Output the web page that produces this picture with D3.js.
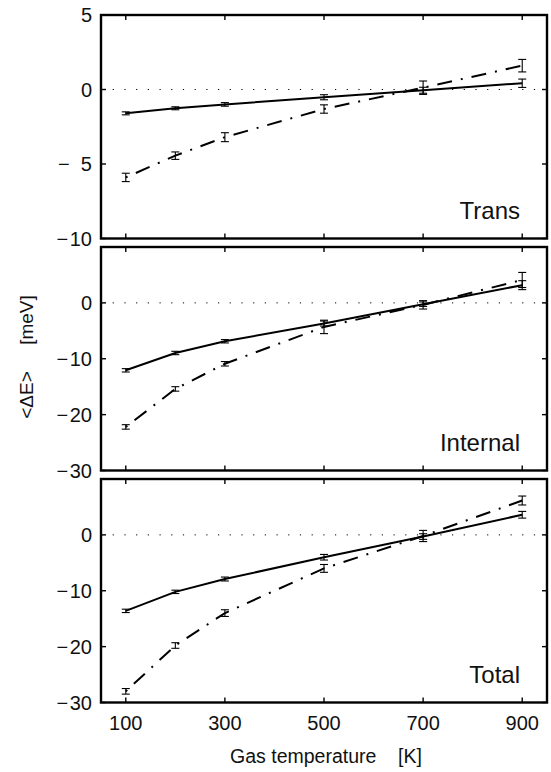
<!DOCTYPE html>
<html>
<head>
<meta charset="utf-8">
<script src="https://cdn.jsdelivr.net/npm/d3@7"></script>
<style>
  html, body { margin: 0; padding: 0; background: #fff; }
  svg { display: block; }
  text { font-family: "Liberation Sans", Arial, Helvetica, sans-serif; fill: #111; }
</style>
</head>
<body>
<svg id="chart" width="551" height="772"></svg>
<script>
// Gas temperatures (K) shared by all three panels
const temps = [100, 200, 300, 500, 700, 900];
const xTicks = [100, 300, 500, 700, 900];

// Translational energy change (meV)
const transSolid = [-1.6, -1.26, -1.0, -0.52, -0.05, 0.42];
const transSolidErr = [0.1, 0.1, 0.12, 0.17, 0.2, 0.28];
const transDashDot = [-5.9, -4.44, -3.2, -1.31, 0.12, 1.6];
const transDashDotErr = [0.28, 0.25, 0.3, 0.28, 0.45, 0.42];

// Internal energy change (meV)
const internalSolid = [-12.07, -8.97, -6.87, -3.7, -0.23, 3.17];
const internalSolidErr = [0.3, 0.3, 0.3, 0.45, 0.4, 0.8];
const internalDashDot = [-22.2, -15.4, -10.9, -4.3, -0.35, 4.1];
const internalDashDotErr = [0.4, 0.4, 0.4, 1.2, 0.75, 1.35];

// Total energy change (meV)
const totalSolid = [-13.6, -10.2, -7.9, -4.0, -0.3, 3.6];
const totalSolidErr = [0.3, 0.3, 0.35, 0.5, 0.5, 0.6];
const totalDashDot = [-28.0, -19.8, -14.0, -6.0, -0.2, 6.15];
const totalDashDotErr = [0.5, 0.5, 0.6, 0.7, 1.0, 0.8];

// Panel titles and y axes
const panelNames = ["Trans", "Internal", "Total"];
const yDomains = [[-10, 5], [-30, 10], [-30, 10]];
const yTickSets = [[-10, -5, 0, 5], [-30, -20, -10, 0, 10], [-30, -20, -10, 0, 10]];
const yLabelSets = [[-10, -5, 0, 5], [-30, -20, -10, 0], [-30, -20, -10, 0]];

const panels = [
  { name: panelNames[0], dom: yDomains[0], ticks: yTickSets[0], labels: yLabelSets[0],
    series: [[transSolid, transSolidErr, "solid"], [transDashDot, transDashDotErr, "dashdot"]] },
  { name: panelNames[1], dom: yDomains[1], ticks: yTickSets[1], labels: yLabelSets[1],
    series: [[internalSolid, internalSolidErr, "solid"], [internalDashDot, internalDashDotErr, "dashdot"]] },
  { name: panelNames[2], dom: yDomains[2], ticks: yTickSets[2], labels: yLabelSets[2],
    series: [[totalSolid, totalSolidErr, "solid"], [totalDashDot, totalDashDotErr, "dashdot"]] }
];

const svg = d3.select("#chart");
const left = 101, right = 547;
const panelTops = [15, 247, 479];
const panelH = 223.5;
const tickLen = 5;

const x = d3.scaleLinear().domain([50, 950]).range([left, right]);

function fmt(v) {
  if (v < 0) {
    const a = Math.abs(v);
    return "\u2212" + (a < 10 ? "\u2007" : "\u200A") + a;
  }
  return String(v);
}

panels.forEach((p, i) => {
  const top = panelTops[i], bottom = top + panelH;
  const y = d3.scaleLinear().domain(p.dom).range([bottom, top]);
  const g = svg.append("g");

  // dotted zero line
  g.append("line")
    .attr("x1", left).attr("x2", right)
    .attr("y1", y(0)).attr("y2", y(0))
    .attr("stroke", "#000").attr("stroke-width", 1)
    .attr("stroke-dasharray", "1.2 10.5");

  // data lines
  p.series.forEach(([vals, errs, style]) => {
    const pts = temps.map((t, k) => [t, vals[k]]);
    const line = d3.line().x(d => x(d[0])).y(d => y(d[1]));
    g.append("path")
      .datum(pts)
      .attr("d", line)
      .attr("fill", "none")
      .attr("stroke", "#000")
      .attr("stroke-width", 2)
      .attr("stroke-dasharray", style === "dashdot" ? "15 9 2 9" : null)
      .attr("stroke-dashoffset", style === "dashdot" ? 24 : null);

    // error bars
    const eb = g.append("g").attr("stroke", "#000").attr("stroke-width", 1.1).attr("fill", "none");
    temps.forEach((t, k) => {
      const cx = x(t), y1 = y(vals[k] + errs[k]), y2 = y(vals[k] - errs[k]);
      eb.append("line").attr("x1", cx).attr("x2", cx).attr("y1", y1).attr("y2", y2);
      eb.append("line").attr("x1", cx - 4).attr("x2", cx + 4).attr("y1", y1).attr("y2", y1);
      eb.append("line").attr("x1", cx - 4).attr("x2", cx + 4).attr("y1", y2).attr("y2", y2);
    });
  });

  // inward ticks on all four sides
  const tk = g.append("g").attr("stroke", "#000").attr("stroke-width", 1.4);
  xTicks.forEach(t => {
    tk.append("line").attr("x1", x(t)).attr("x2", x(t)).attr("y1", top).attr("y2", top + tickLen);
    tk.append("line").attr("x1", x(t)).attr("x2", x(t)).attr("y1", bottom).attr("y2", bottom - tickLen);
  });
  p.ticks.forEach(v => {
    tk.append("line").attr("x1", left).attr("x2", left + tickLen).attr("y1", y(v)).attr("y2", y(v));
    tk.append("line").attr("x1", right).attr("x2", right - tickLen).attr("y1", y(v)).attr("y2", y(v));
  });

  // y tick labels
  g.selectAll("text.ylab")
    .data(p.labels)
    .enter().append("text")
    .attr("class", "ylab")
    .attr("x", left - 9)
    .attr("y", d => y(d))
    .attr("dy", "0.36em")
    .attr("text-anchor", "end")
    .attr("font-size", 20)
    .text(fmt);

  // frame
  g.append("rect")
    .attr("x", left).attr("y", top)
    .attr("width", right - left).attr("height", panelH)
    .attr("fill", "none").attr("stroke", "#000").attr("stroke-width", 2.4);

  // panel title
  g.append("text")
    .attr("x", 520).attr("y", bottom - 20)
    .attr("text-anchor", "end")
    .attr("font-size", 24)
    .text(p.name);

  // x tick labels on the bottom panel only
  if (i === panels.length - 1) {
    g.selectAll("text.xlab")
      .data(xTicks)
      .enter().append("text")
      .attr("class", "xlab")
      .attr("x", d => x(d))
      .attr("y", 730)
      .attr("text-anchor", "middle")
      .attr("font-size", 20)
      .text(d => d);
  }
});

// axis titles
svg.append("text")
  .attr("x", 326)
  .attr("y", 763)
  .attr("text-anchor", "middle")
  .attr("font-size", 19.5)
  .style("white-space", "pre")
  .text("Gas temperature    [K]");

svg.append("text")
  .attr("transform", "translate(33,357) rotate(-90)")
  .attr("text-anchor", "middle")
  .attr("font-size", 19)
  .style("white-space", "pre")
  .text("<\u0394E>     [meV]");
</script>
</body>
</html>
